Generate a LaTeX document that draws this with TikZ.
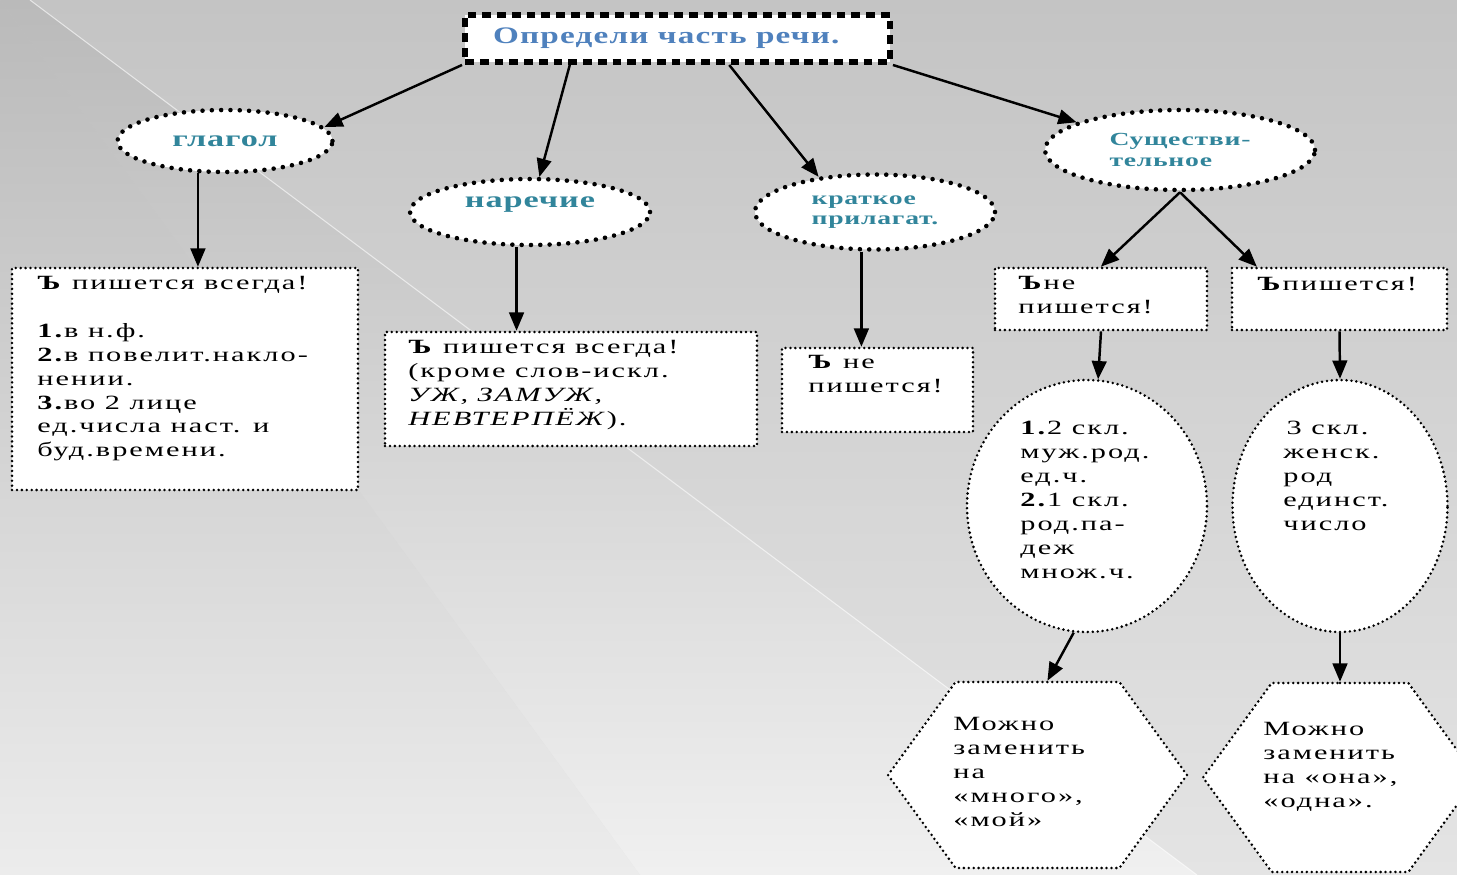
\documentclass[tikz,border=0pt]{standalone}
\usepackage{fontspec}
\setmainfont{Liberation Serif}
\newfontfamily\boxfont[FakeStretch=1.5,LetterSpace=10]{Liberation Serif}
\newfontfamily\labelfont[FakeStretch=1.5,LetterSpace=4]{Liberation Serif}
\newfontfamily\titlefont[FakeStretch=1.4,LetterSpace=5]{Liberation Serif}
\usepackage{xcolor}
\usepackage{tikz}
\usetikzlibrary{shapes.geometric, shapes.symbols, positioning, arrows, calc}
\definecolor{titleBlue}{RGB}{79,129,189}
\definecolor{labelTeal}{RGB}{49,133,155}
\tikzset{
	dotBox/.style={rectangle, draw=black, fill=white, line width=1.6pt, line cap=round,
	dash pattern=on 0pt off 2.8pt, inner sep=0pt}
}
\tikzset{
	dotOval/.style={ellipse, draw=black, fill=white, line width=2.6pt, line cap=round,
	dash pattern=on 0pt off 5.3pt, inner sep=0pt, text=labelTeal, align=left,
	font=\labelfont\bfseries\fontsize{10.5}{11.5}\selectfont}
}
\tikzset{
	bigLabel/.style={font=\labelfont\bfseries\fontsize{13}{14}\selectfont}
}
\tikzset{
	dotHex/.style={signal, signal to=east and west, signal pointer angle=108, draw=black, fill=white,
	line width=1.6pt, line cap=round, dash pattern=on 0pt off 2.8pt, inner sep=0pt}
}
\tikzset{
	dashTitle/.style={rectangle, draw=black, fill=white, line width=3.4pt,
	dash pattern=on 5pt off 3.4pt, inner sep=0pt, text=titleBlue,
	font=\titlefont\bfseries\fontsize{13.5}{15}\selectfont}
}
\tikzset{
	arrowLine/.style={line width=1.4pt, -triangle 45}
}
\tikzset{
	boxText/.style={anchor=north west, inner sep=0pt, align=left,
	font=\boxfont\fontsize{11.5}{13.6}\selectfont}
}

\begin{document}
\begin{tikzpicture}[x=0.02cm, y=-0.02cm]

	% background
	\useasboundingbox (0,0) rectangle (1457,875);
	\shade[top color={rgb,255:red,196;green,196;blue,196}, bottom color={rgb,255:red,228;green,228;blue,228}] (0,0) rectangle (1457,875);
	\shade[top color={rgb,255:red,186;green,186;blue,186}, middle color={rgb,255:red,224;green,224;blue,224}, bottom color={rgb,255:red,240;green,240;blue,240}] (0,0) -- (30,0) -- (1197,875) -- (640,875) -- cycle;
	\shade[top color={rgb,255:red,186;green,186;blue,186}, middle color={rgb,255:red,212;green,212;blue,212}, bottom color={rgb,255:red,236;green,236;blue,236}] (0,0) -- (640,875) -- (0,875) -- cycle;
	\draw[white, opacity=0.6, line width=0.6pt] (30,0) -- (1197,875);

	% title
	\node[dashTitle, minimum width=8.5cm, minimum height=0.94cm] (title) at (677.5,38.5) {\hspace{-0.45cm}Определи часть речи.};

	% parts of speech
	\node[dotOval, bigLabel, minimum width=4.3cm, minimum height=1.24cm] (verb) at (225,141) {глагол};
	\node[dotOval, bigLabel, minimum width=4.8cm, minimum height=1.32cm] (adverb) at (530,212) {наречие\\[-3pt]};
	\node[dotOval, minimum width=4.8cm, minimum height=1.5cm] (shortAdj) at (875,212) {краткое\\прилагат.};
	\node[dotOval, minimum width=5.4cm, minimum height=1.6cm] (noun) at (1180,150) {Существи-\\тельное};

	% rule boxes
	\node[dotBox, minimum width=6.92cm, minimum height=4.44cm] (verbBox) at (185,379) {};
	\node[dotBox, minimum width=7.44cm, minimum height=2.28cm] (adverbBox) at (571,389) {};
	\node[dotBox, minimum width=3.82cm, minimum height=1.68cm] (adjBox) at (877.5,390) {};
	\node[dotBox, minimum width=4.24cm, minimum height=1.24cm] (nounNo) at (1101,299) {};
	\node[dotBox, minimum width=4.3cm, minimum height=1.24cm] (nounYes) at (1339.5,299) {};

	% noun cases
	\node[dotOval, minimum width=4.8cm, minimum height=5.04cm, line width=1.6pt, dash pattern=on 0pt off 2.8pt] (caseNo) at (1087,506) {};
	\node[dotOval, minimum width=4.3cm, minimum height=5.04cm, line width=1.6pt, dash pattern=on 0pt off 2.8pt] (caseYes) at (1340,506) {};
	\node[dotHex, minimum width=5.98cm, minimum height=3.72cm] (hexNo) at (1037.5,775) {};
	\node[dotHex, minimum width=5.48cm, minimum height=3.78cm] (hexYes) at (1340,777.5) {};

	% texts
	\node[boxText] (verbText) at (37,276) {\textbf{Ъ} пишется всегда!\\[13.6pt]
		\textbf{1.}в н.ф.\\\textbf{2.}в повелит.накло-\\нении.\\\textbf{3.}во 2 лице\\ед.числа наст. и\\буд.времени.};
	\node[boxText] (adverbText) at (408,340) {\textbf{Ъ} пишется всегда!\\(кроме слов-искл.\\\textit{УЖ, ЗАМУЖ,}\\\textit{НЕВТЕРПЁЖ}).};
	\node[boxText] (adjText) at (808,355) {\textbf{Ъ} не\\пишется!};
	\node[boxText] (noText) at (1018,276) {\textbf{Ъ}не\\пишется!};
	\node[boxText] (yesText) at (1257,277) {\textbf{Ъ}пишется!};
	\node[boxText] (caseNoText) at (1020,421) {\textbf{1.}2 скл.\\муж.род.\\ед.ч.\\\textbf{2.}1 скл.\\род.па-\\деж\\множ.ч.};
	\node[boxText] (caseYesText) at (1283,421) {\,3 скл.\\женск.\\род\\единст.\\число};
	\node[boxText] (hexNoText) at (953,717) {Можно\\заменить\\на\\«много»,\\«мой»};
	\node[boxText] (hexYesText) at (1263,722) {Можно\\заменить\\на «она»,\\«одна».};

	% arrows from the title
	\draw[arrowLine] (title.south west) -- (verb.8);
	\draw[arrowLine] ($(title.south west)!0.25!(title.south east)$) -- (adverb.75);
	\draw[arrowLine] ($(title.south west)!0.62!(title.south east)$) -- (shortAdj.148);
	\draw[arrowLine] (title.south east) -- (noun.165);

	% arrows down to the rules
	\draw[arrowLine] (verb.-130) -- (verb.-130 |- verbBox.north);
	\draw[arrowLine] (adverb.-111) -- (adverb.-111 |- adverbBox.north);
	\draw[arrowLine] (shortAdj.-109) -- (shortAdj.-109 |- adjBox.north);
	\draw[arrowLine] (noun.south) -- (nounNo.north);
	\draw[arrowLine] (noun.south) -- ($(nounYes.north west)!0.12!(nounYes.north east)$);
	\draw[arrowLine] (nounNo.south) -- (caseNo.85);
	\draw[arrowLine] (nounYes.south) -- (caseYes.north);
	\draw[arrowLine] (caseNo.-96) -- ([xshift=0.2cm]hexNo.north);
	\draw[arrowLine] (caseYes.south) -- (hexYes.north);

\end{tikzpicture}
\end{document}
